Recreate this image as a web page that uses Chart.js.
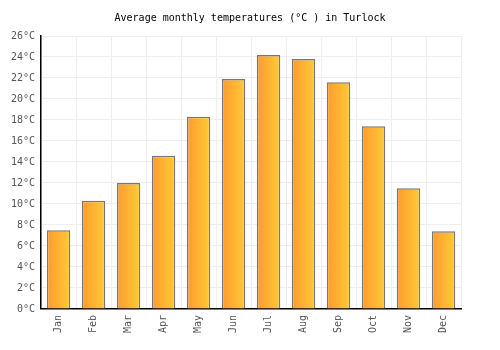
<!DOCTYPE html>
<html>
<head>
<meta charset="utf-8">
<script src="https://cdn.jsdelivr.net/npm/chart.js@4.4.0/dist/chart.umd.min.js"></script>
<style>
  html, body { margin: 0; padding: 0; background: #fff; }
  #wrap { width: 500px; height: 350px; }
</style>
</head>
<body>
<div id="wrap"><canvas id="c"></canvas></div>
<script>
const months = ['Jan', 'Feb', 'Mar', 'Apr', 'May', 'Jun', 'Jul', 'Aug', 'Sep', 'Oct', 'Nov', 'Dec'];
const temps = [7.5, 10.3, 12.0, 14.6, 18.3, 21.9, 24.2, 23.8, 21.6, 17.4, 11.5, 7.4];
const chartTitle = 'Average monthly temperatures (°C ) in Turlock';

const FONT = '"DejaVu Sans Mono", monospace';
const BAR_PCT = 0.67;

// gradiente orizzontale calcolato per ogni barra dalla scala x
function barGradient(context) {
    const chart = context.chart;
    const xs = chart.scales.x;
    if (!xs || !chart.chartArea) return '#ffb030';
    const cx = xs.getPixelForValue(context.dataIndex);
    const w = (xs.width / months.length) * BAR_PCT;
    const g = chart.ctx.createLinearGradient(cx - w / 2, 0, cx + w / 2, 0);
    g.addColorStop(0, '#ff9a30');
    g.addColorStop(1, '#ffcb35');
    return g;
}

// titolo centrato sull'intera tela, non sull'area del grafico
const centeredTitle = {
    id: 'centeredTitle',
    afterDraw(chart) {
        const ctx = chart.ctx;
        ctx.save();
        ctx.font = '10px ' + FONT;
        ctx.fillStyle = '#000';
        ctx.textAlign = 'center';
        ctx.textBaseline = 'middle';
        ctx.fillText(chartTitle, chart.width / 2, 18);
        ctx.restore();
    }
};

new Chart(document.getElementById('c'), {
    type: 'bar',
    data: {
        labels: months,
        datasets: [{
            data: temps,
            backgroundColor: barGradient,
            borderColor: '#777777',
            borderWidth: 1.5,
            barPercentage: BAR_PCT,
            categoryPercentage: 1.0
        }]
    },
    options: {
        responsive: true,
        maintainAspectRatio: false,
        animation: false,
        layout: { padding: { left: 5, right: 39, top: 36, bottom: 11 } },
        plugins: {
            legend: { display: false },
            tooltip: { enabled: false },
            title: { display: false }
        },
        scales: {
            x: {
                grid: { color: '#eeeeee', drawTicks: false },
                border: { color: '#000', width: 1.5 },
                ticks: {
                    color: '#555',
                    font: { family: FONT, size: 10 },
                    minRotation: 90,
                    maxRotation: 90,
                    padding: 6
                }
            },
            y: {
                min: 0,
                max: 26,
                grid: { color: '#eeeeee', drawTicks: false },
                border: { color: '#000', width: 1.5 },
                ticks: {
                    stepSize: 2,
                    color: '#555',
                    font: { family: FONT, size: 10 },
                    padding: 6,
                    callback: v => v + '°C'
                }
            }
        }
    },
    plugins: [centeredTitle]
});
</script>
</body>
</html>
